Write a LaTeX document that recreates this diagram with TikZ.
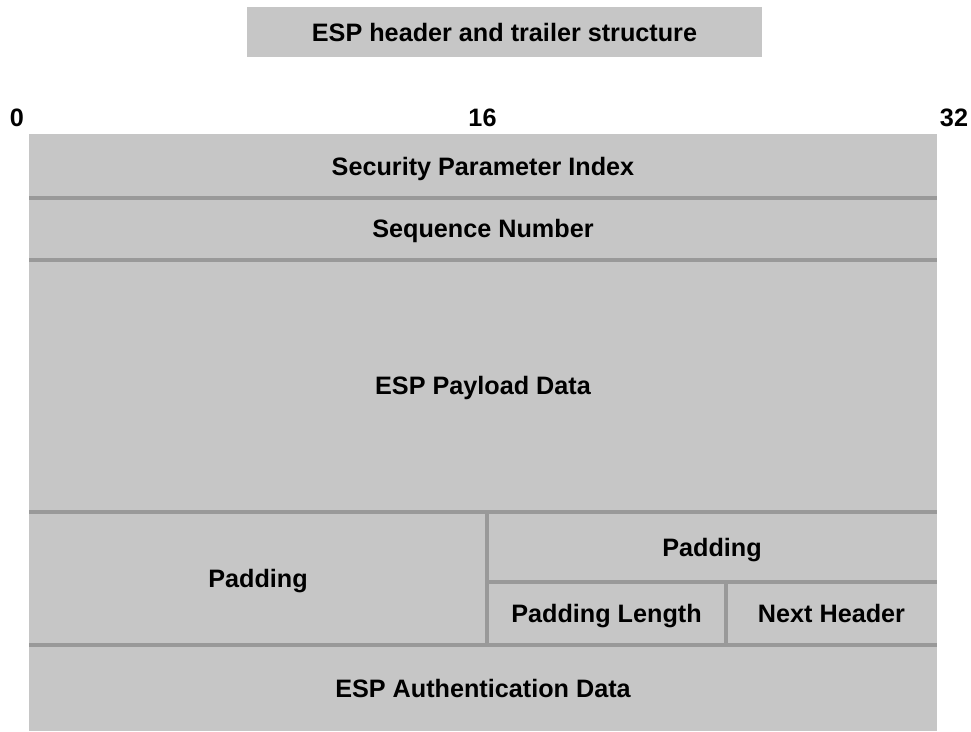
\documentclass[tikz,border=0pt]{standalone}
\usepackage{fontspec}
\setmainfont{Liberation Sans}
\definecolor{cellgray}{HTML}{C6C6C6}
\definecolor{sepgray}{HTML}{999999}
\begin{document}
\begin{tikzpicture}[x=1pt,y=-1pt,
  cell/.style={fill=cellgray, inner sep=0pt, outer sep=0pt, text height=18.2pt, text depth=0pt,
    font=\fontsize{25.2}{30}\selectfont\bfseries, anchor=center},
  bitlbl/.style={inner sep=0pt, text height=18.2pt, text depth=0pt, font=\fontsize{25.2}{30}\selectfont\bfseries},
  sepline/.style={draw=sepgray, line width=4pt}]
\useasboundingbox (0,0) rectangle (971,731);
% title
\node[cell, minimum width=515pt, minimum height=50pt] (title) at (504.5,32) {ESP header and trailer structure};
% bit labels
\node[bitlbl] (b0) at (17,117) {0};
\node[bitlbl] (b16) at (482.5,117) {16};
\node[bitlbl] (b32) at (954,117) {32};
% cells
\node[cell, minimum width=908pt, minimum height=64pt] (spi) at (483,166) {Security Parameter Index};
\node[cell, minimum width=908pt, minimum height=61.5pt] (seq) at (483,228.75) {Sequence Number};
\node[cell, minimum width=908pt, minimum height=252.5pt] (pay) at (483,385.75) {ESP Payload Data};
\node[cell, minimum width=458pt, minimum height=133pt] (padl) at (258,578.5) {Padding};
\node[cell, minimum width=450pt, minimum height=70pt] (padr) at (712,547) {Padding};
\node[cell, minimum width=239pt, minimum height=63pt] (plen) at (606.5,613.5) {Padding Length};
\node[cell, minimum width=211pt, minimum height=63pt] (nh) at (831.5,613.5) {Next Header};
\node[cell, minimum width=908pt, minimum height=86pt] (auth) at (483,688) {ESP Authentication Data};
% separators
\draw[sepline] (spi.south west) -- (spi.south east);
\draw[sepline] (seq.south west) -- (seq.south east);
\draw[sepline] (pay.south west) -- (pay.south east);
\draw[sepline] (auth.north west) -- (auth.north east);
\draw[sepline] (padr.north west) -- (plen.south west);
\draw[sepline] (padr.south west) -- (padr.south east);
\draw[sepline] (plen.north east) -- (plen.south east);
\end{tikzpicture}
\end{document}
